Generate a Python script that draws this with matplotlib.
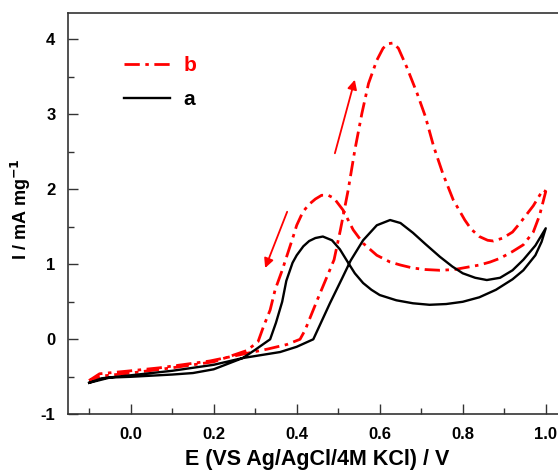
import matplotlib
matplotlib.use("Agg")
import matplotlib.pyplot as plt
from matplotlib.ticker import MultipleLocator, FormatStrFormatter

plt.rcParams['font.family'] = ['Liberation Sans', 'DejaVu Sans']
plt.rcParams['font.weight'] = 'bold'
plt.rcParams['lines.scale_dashes'] = False

# Curve a (black, solid): forward then reverse scan
E_a = [-0.10, -0.07, 0.00, 0.10, 0.20, 0.27, 0.36, 0.40, 0.44, 0.45, 0.48,
       0.51, 0.53, 0.56, 0.593, 0.625, 0.65, 0.68, 0.71, 0.745, 0.775, 0.80, 0.83,
       0.858, 0.89, 0.92, 0.946, 0.975, 1.00,
       0.99, 0.975, 0.946, 0.92, 0.88, 0.84, 0.80, 0.76, 0.72, 0.68, 0.64, 0.60,
       0.58, 0.56, 0.54, 0.524, 0.504, 0.485, 0.463, 0.445, 0.43, 0.416, 0.40,
       0.39, 0.375, 0.365, 0.35, 0.336, 0.30, 0.27, 0.20, 0.15, 0.10,
       0.00, -0.05, -0.10]
I_a = [-0.58, -0.52, -0.48, -0.42, -0.34, -0.25, -0.17, -0.10, 0.00, 0.12, 0.48,
       0.82, 1.05, 1.32, 1.52, 1.59, 1.55, 1.42, 1.27, 1.10, 0.97, 0.88, 0.82,
       0.79, 0.82, 0.92, 1.06, 1.25, 1.48,
       1.30, 1.12, 0.92, 0.80, 0.66, 0.56, 0.50, 0.47, 0.46, 0.48, 0.52, 0.59,
       0.66, 0.75, 0.88, 1.02, 1.20, 1.32, 1.37, 1.35, 1.31, 1.24, 1.12,
       1.02, 0.78, 0.50, 0.22, 0.00, -0.14, -0.25, -0.40, -0.45, -0.47,
       -0.50, -0.51, -0.58]

# Curve b (red, dash-dot): forward then reverse scan
E_b = [-0.10, -0.075, 0.00, 0.07, 0.19, 0.26, 0.33, 0.376, 0.408, 0.42, 0.45, 0.49,
       0.505, 0.524, 0.54, 0.557, 0.573, 0.593, 0.608, 0.62, 0.632, 0.645, 0.665,
       0.69, 0.71, 0.73, 0.752, 0.777, 0.805, 0.82, 0.84, 0.86, 0.874, 0.897,
       0.92, 0.938, 0.97, 0.993,
       1.00, 0.985, 0.97, 0.946, 0.92, 0.89, 0.866, 0.84, 0.81, 0.78, 0.745,
       0.71, 0.68, 0.65, 0.625, 0.593, 0.56, 0.536, 0.512, 0.49, 0.476, 0.46,
       0.445, 0.43, 0.415, 0.40, 0.391, 0.378, 0.365, 0.348, 0.336, 0.32, 0.307,
       0.28, 0.20, 0.10, 0.00, -0.07, -0.10]
I_b = [-0.55, -0.46, -0.42, -0.38, -0.29, -0.21, -0.13, -0.07, 0.00, 0.12, 0.53, 1.06,
       1.45, 1.99, 2.52, 3.01, 3.41, 3.72, 3.88, 3.94, 3.95, 3.88, 3.63,
       3.28, 2.97, 2.57, 2.21, 1.86, 1.59, 1.47, 1.37, 1.32, 1.31, 1.35,
       1.43, 1.55, 1.78, 1.99,
       1.97, 1.65, 1.43, 1.26, 1.17, 1.08, 1.03, 0.99, 0.96, 0.93, 0.92,
       0.93, 0.95, 0.99, 1.03, 1.12, 1.28, 1.46, 1.72, 1.88, 1.92, 1.92,
       1.87, 1.80, 1.70, 1.52, 1.36, 1.14, 0.92, 0.66, 0.39, 0.17, -0.03,
       -0.15, -0.30, -0.38, -0.45, -0.49, -0.55]

# Scan direction arrows (tail -> head) in data units
arrow_up = [(0.492, 2.48), (0.540, 3.46)]
arrow_down = [(0.377, 1.70), (0.324, 0.95)]

x_label = "E (VS Ag/AgCl/4M KCl) / V"
y_label = "I / mA mg$^{\\mathbf{-1}}$"

fig = plt.figure(figsize=(5.58, 4.70), dpi=100)
ax = fig.add_axes([68/558, 1-414.3/470, (566.5-68)/558, (414.3-13)/470])

ax.plot(E_b, I_b, color='#ff0000', lw=2.0, dashes=(11, 4, 2.5, 4), label='b')
ax.plot(E_a, I_a, color='black', lw=1.7, label='a')

for (t, h) in (arrow_up, arrow_down):
    ax.annotate('', xy=h, xytext=t,
                arrowprops=dict(arrowstyle='-|>', color='#ff0000', lw=1.3,
                                mutation_scale=14, shrinkA=0, shrinkB=0))

ax.set_xlim(-0.151, 1.05)
ax.set_ylim(-1, 4.35)
ax.xaxis.set_major_locator(MultipleLocator(0.2))
ax.xaxis.set_minor_locator(MultipleLocator(0.1))
ax.yaxis.set_major_locator(MultipleLocator(1))
ax.yaxis.set_minor_locator(MultipleLocator(0.5))
ax.xaxis.set_major_formatter(FormatStrFormatter('%.1f'))
ax.yaxis.set_major_formatter(FormatStrFormatter('%d'))
ax.tick_params(which='both', direction='in', labelsize=12, width=1, color='#333333')
ax.tick_params(which='major', length=7, pad=9)
ax.tick_params(which='minor', length=4)
for s in ax.spines.values():
    s.set_color('#333333')
    s.set_linewidth(1.2)
for lab in ax.get_xticklabels() + ax.get_yticklabels():
    lab.set_fontweight('bold')

ax.set_xlabel(x_label, fontsize=15.5, fontweight='bold', labelpad=5)
ax.set_ylabel(y_label, fontsize=13, fontweight='bold')
ax.yaxis.set_label_coords(-0.07, 0.51)

leg = ax.legend(loc='upper left', bbox_to_anchor=(0.075, 0.94), frameon=False,
                handlelength=2.2, handletextpad=0.65, labelspacing=0.75,
                prop={'weight': 'bold', 'size': 15})
for txt, line in zip(leg.get_texts(), leg.get_lines()):
    txt.set_color(line.get_color())

fig.savefig('out.png', dpi=100)
